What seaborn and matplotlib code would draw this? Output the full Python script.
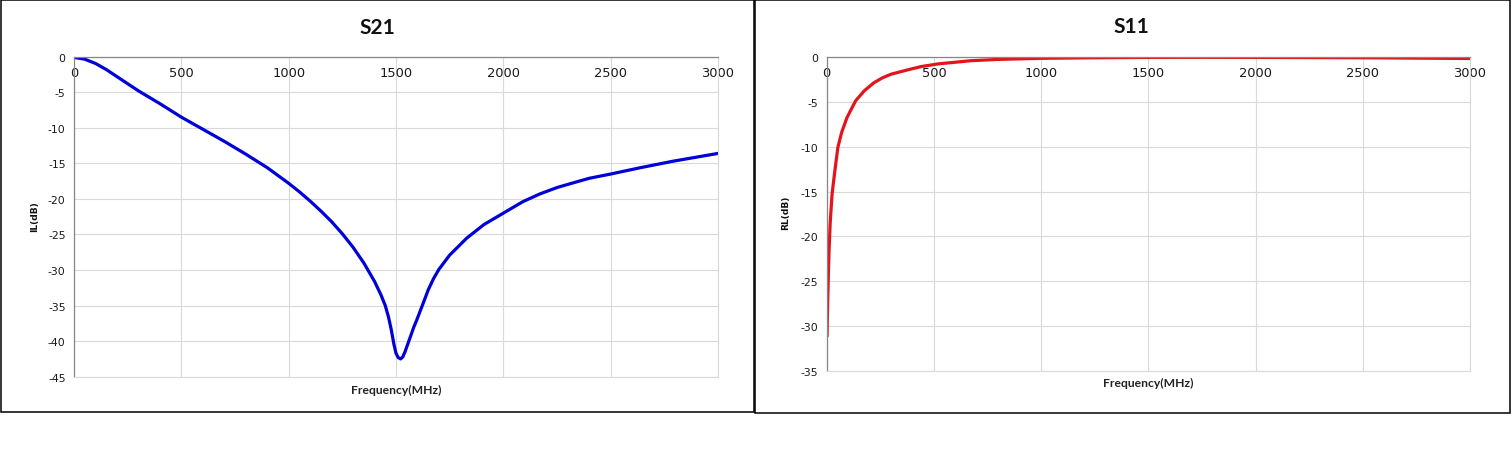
import matplotlib
matplotlib.use("Agg")
import matplotlib.pyplot as plt
import seaborn as sns
import pandas as pd
from matplotlib.patches import Rectangle

# ---- data ----
s21_freq = [0, 50, 100, 150, 200, 250, 300, 350, 400, 500, 600, 700, 800, 900,
            1000, 1050, 1100, 1150, 1200, 1250, 1300, 1350, 1400, 1430, 1450,
            1465, 1478, 1490, 1500, 1510, 1522, 1532, 1542, 1555, 1568, 1582,
            1597, 1630, 1650, 1675, 1700, 1750, 1830, 1910, 2000, 2090, 2170,
            2250, 2330, 2400, 2500, 2640, 2790, 3000]
s21_db = [-0.1, -0.35, -0.95, -1.8, -2.8, -3.8, -4.8, -5.7, -6.6, -8.5, -10.2,
          -11.9, -13.7, -15.6, -17.8, -19.0, -20.3, -21.7, -23.2, -24.9,
          -26.8, -29.0, -31.6, -33.5, -35.0, -36.6, -38.4, -40.4, -41.7, -42.3,
          -42.5, -42.2, -41.5, -40.4, -39.3, -38.1, -37.0, -34.4, -32.8, -31.2,
          -29.9, -27.9, -25.5, -23.6, -22.0, -20.4, -19.3, -18.4, -17.7, -17.1,
          -16.5, -15.6, -14.7, -13.6]

s11_freq = [1.5, 3, 5, 8, 11, 16, 25, 38, 52, 70, 95, 135, 175, 220, 260, 300,
            380, 440, 520, 670, 800, 1000, 1250, 1500, 1750, 2000, 2250, 2500,
            2750, 3000]
s11_db = [-31.1, -29.0, -27.0, -24.0, -21.6, -18.6, -15.3, -12.7, -10.1, -8.4,
          -6.75, -4.9, -3.8, -2.9, -2.35, -1.95, -1.45, -1.1, -0.8, -0.45, -0.3,
          -0.18, -0.12, -0.08, -0.07, -0.08, -0.1, -0.12, -0.16, -0.2]

x_ticks = [0, 500, 1000, 1500, 2000, 2500, 3000]
s21_yticks = [0, -5, -10, -15, -20, -25, -30, -35, -40, -45]
s11_yticks = [0, -5, -10, -15, -20, -25, -30, -35]

df21 = pd.DataFrame({"freq": s21_freq, "db": s21_db})
df11 = pd.DataFrame({"freq": s11_freq, "db": s11_db})

sns.set_style("white")
plt.rcParams["font.family"] = ["DejaVu Sans"]
plt.rcParams["axes.unicode_minus"] = False

W, H = 1511, 460
fig = plt.figure(figsize=(W / 100, H / 100), dpi=100)
fig.patch.set_facecolor("white")

# panel frames
fig.add_artist(Rectangle((0.5 / W, 1 - 412.5 / H), 753.5 / W, 412 / H,
                         transform=fig.transFigure, fill=False,
                         edgecolor="black", linewidth=1.1))
fig.add_artist(Rectangle((754.5 / W, 1 - 414 / H), 755.5 / W, 413 / H,
                         transform=fig.transFigure, fill=False,
                         edgecolor="black", linewidth=1.1))

ax1 = fig.add_axes([74 / W, 1 - 377.7 / H, 644 / W, 320 / H])
ax2 = fig.add_axes([826.7 / W, 1 - 372.3 / H, 643.3 / W, 314.6 / H])

grid_c = "#d9d9d9"
axis_c = "#868686"


def style(ax, ylim, yticks):
    ax.set_xlim(0, 3000)
    ax.set_ylim(ylim, 0)
    ax.set_xticks(x_ticks)
    ax.set_yticks(yticks)
    ax.grid(True, color=grid_c, linewidth=0.8)
    ax.set_axisbelow(True)
    for s in ["right", "bottom"]:
        ax.spines[s].set_visible(True)
        ax.spines[s].set_color(grid_c)
        ax.spines[s].set_linewidth(0.8)
    for s in ["left", "top"]:
        ax.spines[s].set_color(axis_c)
        ax.spines[s].set_linewidth(0.9)
    ax.xaxis.set_ticks_position("top")
    ax.tick_params(axis="x", which="both", length=0, labeltop=True,
                   labelbottom=False, pad=-16, labelsize=9.4)
    ax.tick_params(axis="y", length=3, width=0.9, color=axis_c, pad=3,
                   labelsize=7.8, labelcolor="#1a1a1a", direction="out",
                   right=False)
    for lab in ax.get_xticklabels():
        lab.set_color("#1a1a1a")
    ax.set_xlabel("")
    ax.set_ylabel("")


sns.lineplot(data=df21, x="freq", y="db", ax=ax1, color="#0000d8",
             linewidth=2.3, sort=False, estimator=None)
sns.lineplot(data=df11, x="freq", y="db", ax=ax2, color="#e3141c",
             linewidth=2.3, sort=False, estimator=None)

style(ax1, -45, s21_yticks)
style(ax2, -35, s11_yticks)

title_kw = dict(ha="center", va="center", fontsize=15, fontweight="bold",
                family=["Lato", "DejaVu Sans"], color="#111111")
fig.text(377 / W, 1 - 27.5 / H, "S21", **title_kw)
fig.text(1131.5 / W, 1 - 27 / H, "S11", **title_kw)

xl_kw = dict(ha="center", va="center", fontsize=8.7, fontweight="bold",
             family=["Lato", "DejaVu Sans"], color="#222222")
fig.text(396 / W, 1 - 390 / H, "Frequency(MHz)", **xl_kw)
fig.text(1148 / W, 1 - 383 / H, "Frequency(MHz)", **xl_kw)

yl_kw = dict(ha="center", va="center", fontsize=6.6, fontweight="bold",
             rotation=90, color="#111111")
fig.text(35 / W, 1 - 217 / H, "IL(dB)", **yl_kw)
fig.text(786 / W, 1 - 213 / H, "RL(dB)", **yl_kw)

fig.savefig("out.png", dpi=100, facecolor="white")
